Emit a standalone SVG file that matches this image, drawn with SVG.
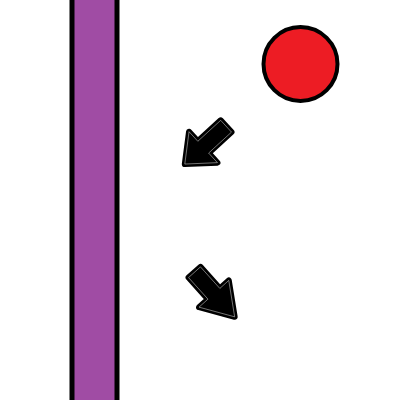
<svg xmlns="http://www.w3.org/2000/svg" width="400" height="400" viewBox="0 0 400 400">
  <style>
    .arrow { fill: #000; stroke: #000; stroke-width: 6; stroke-linejoin: round; }
    .arrow-line { fill: none; stroke: #fff; stroke-width: 0.7; stroke-linejoin: round; opacity: 0.6; }
  </style>
  <rect width="400" height="400" fill="#fff"/>
  <g id="wall">
    <rect x="72" y="-10" width="45" height="420" fill="#a04ca4" stroke="#000" stroke-width="5"/>
  </g>
  <g id="ball">
    <circle cx="300.5" cy="64" r="37" fill="#ed1c24" stroke="#000" stroke-width="4"/>
  </g>
  <g id="arrow-in" transform="translate(228.3,124.2) rotate(137.5)">
    <polygon class="arrow" points="3,-8 34,-8 34,-21 59,0 34,21 34,8 3,8"/>
    <polygon class="arrow-line" points="3,-8 34,-8 34,-21 59,0 34,21 34,8 3,8"/>
  </g>
  <g id="arrow-out" transform="translate(192.5,270) rotate(48)">
    <polygon class="arrow" points="3,-8 32,-8 32,-20 63,0 32,20 32,8 3,8"/>
    <polygon class="arrow-line" points="3,-8 32,-8 32,-20 63,0 32,20 32,8 3,8"/>
  </g>
</svg>
